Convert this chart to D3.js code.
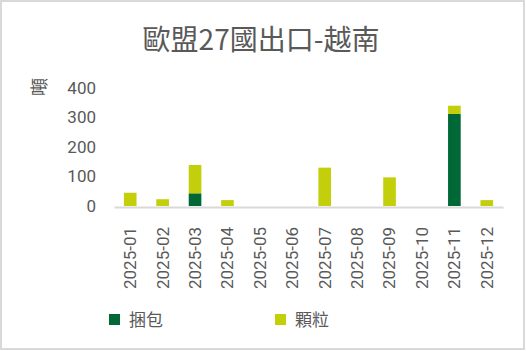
<!DOCTYPE html>
<html>
<head>
<meta charset="utf-8">
<script src="https://cdn.jsdelivr.net/npm/d3@7"></script>
<style>
  body { margin: 0; background: #fff; }
  text { font-family: Roboto, "Noto Sans CJK TC", sans-serif; fill: #595959; }
</style>
</head>
<body>
<script>
  // data
  var months = ["2025-01","2025-02","2025-03","2025-04","2025-05","2025-06",
                "2025-07","2025-08","2025-09","2025-10","2025-11","2025-12"];
  var bale = [0, 0, 43, 0, 0, 0, 0, 0, 0, 0, 312, 0];        // 捆包
  var pellet = [45, 23, 96, 20, 0, 0, 130, 0, 97, 0, 28, 20]; // 顆粒
  var yTicks = [0, 100, 200, 300, 400];
  var seriesNames = ["捆包", "顆粒"];
  var colors = ["#006837", "#c4cf0c"];

  var W = 526, H = 351;
  var svg = d3.select("body").append("svg")
            .attr("width", W)
            .attr("height", H)

  // border
  svg.append("rect")
    .attr("x", 1).attr("y", 1)
    .attr("width", W - 3).attr("height", H - 3)
    .attr("fill", "#fff")
    .attr("stroke", "#d9d9d9")
    .attr("stroke-width", 2)

  var xScale = d3.scaleBand().domain(months).range([114, 503]).paddingInner(0.61).paddingOuter(0.305)
  var yScale = d3.scaleLinear().domain([0, 400]).range([206, 88])

  var rows = months.map(function(m, i) { return {month: m, bale: bale[i], pellet: pellet[i]} })
  var stacked = d3.stack().keys(["bale", "pellet"])(rows)

  svg.append("text")
    .attr("x", 261).attr("y", 50)
    .attr("text-anchor", "middle")
    .style("font-size", "28px")
    .style("font-family", "'Noto Sans CJK TC', sans-serif")
    .text("歐盟27國出口-越南")

  svg.append("text")
    .attr("transform", "translate(46,87) rotate(-90)")
    .attr("text-anchor", "middle")
    .style("font-size", "18px")
    .style("font-family", "'Noto Sans CJK TC', sans-serif")
    .text("噸")

  // y axis labels
  var yAxis = svg.append("g")
    .attr("transform", "translate(96,0)")
    .call(d3.axisLeft(yScale).tickValues(yTicks).tickSize(0).tickPadding(0))
  yAxis.select(".domain").remove()
  yAxis.selectAll("text")
    .style("font-size", "17px")
    .style("fill", "#595959")
    .style("font-family", "Roboto, sans-serif")

  svg.append("g").selectAll("g")
    .data(stacked)
    .enter()
    .append("g")
    .attr("fill", function(d, i) { return colors[i] })
    .selectAll("rect")
    .data(function(d) { return d })
    .enter()
    .append("rect")
    .attr("x", function(d) { return xScale(d.data.month) })
    .attr("y", function(d) { return yScale(d[1]) })
    .attr("width", xScale.bandwidth())
    .attr("height", function(d) { return yScale(d[0]) - yScale(d[1]) })

  // x axis
  var xAxis = svg.append("g")
    .attr("transform", "translate(0,207)")
    .call(d3.axisBottom(xScale).tickSize(0).tickPadding(0))
  xAxis.select(".domain")
    .attr("stroke", "#d9d9d9")
    .attr("stroke-width", 2)
  xAxis.selectAll("text")
    .attr("transform", "rotate(-90)")
    .attr("x", -82).attr("y", 0).attr("dy", "0.35em")
    .attr("text-anchor", "start")
    .style("font-size", "17px")
    .style("fill", "#595959")
    .style("font-family", "Roboto, sans-serif")

  // legend
  var legX = [109, 275];
  var legend = svg.append("g").selectAll("g")
    .data(seriesNames)
    .enter()
    .append("g")
    .attr("transform", function(d, i) { return "translate(" + legX[i] + ",314)" })
  legend.append("rect")
    .attr("width", 11).attr("height", 11)
    .attr("fill", function(d, i) { return colors[i] })
  legend.append("text")
    .attr("x", 20).attr("y", 12)
    .style("font-size", "17px")
    .style("font-family", "'Noto Sans CJK TC', sans-serif")
    .text(function(d) { return d })
</script>
</body>
</html>
